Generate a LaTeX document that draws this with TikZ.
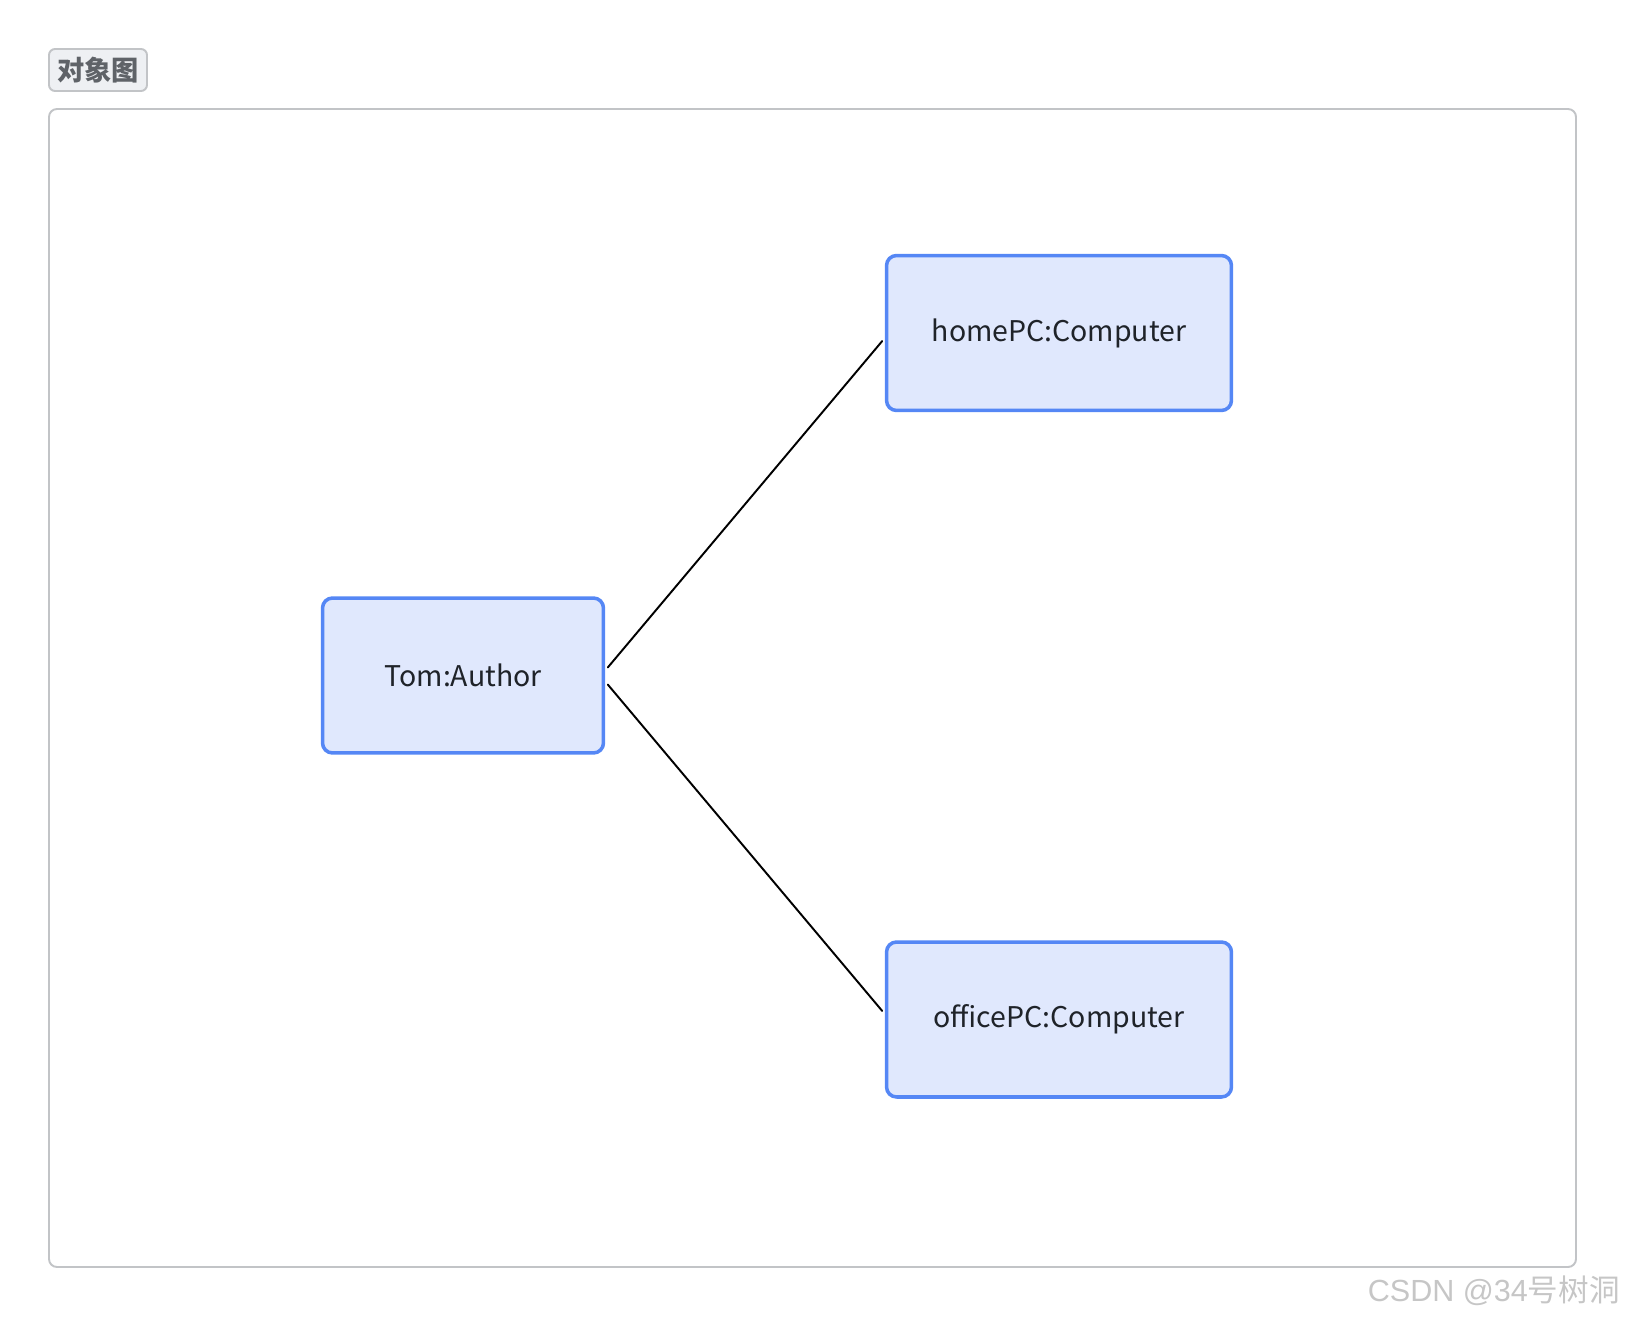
\documentclass[tikz,border=0pt]{standalone}
\usepackage{fontspec}
\setmainfont{Noto Sans CJK SC}
\newfontfamily\wmfont{Liberation Sans}
\usetikzlibrary{positioning}

\definecolor{objfill}{HTML}{E0E8FD}
\definecolor{objline}{HTML}{5587F5}
\definecolor{objtext}{HTML}{1F2329}
\definecolor{framegray}{HTML}{C2C4C7}
\definecolor{tabfill}{HTML}{EEF0F3}
\definecolor{tabtext}{HTML}{5F6368}

\begin{document}
\begin{tikzpicture}[x=0.02cm, y=-0.02cm, line cap=round, line join=round,
	objbox/.style={draw=objline, fill=objfill, line width=2pt, rounded corners=0.2cm,
		minimum width=5.62cm, minimum height=3.1cm, text=objtext,
		font=\fontsize{16.2}{20}\selectfont},
	widebox/.style={objbox, minimum width=6.9cm},
	link/.style={line width=1.1pt, shorten <=0.08cm, shorten >=0.08cm}]
	\useasboundingbox (0,0) rectangle (1626,1318);
	% frame and tab
	\draw [framegray, line width=1.1pt, rounded corners=0.16cm] (49,109) rectangle (1576,1267);
	\node (tab) [draw=framegray, fill=tabfill, line width=1.1pt, rounded corners=0.12cm,
		minimum width=1.96cm, minimum height=0.84cm, text=tabtext,
		font=\fontsize{15.5}{18}\selectfont\bfseries] at (98,70) {对象图};
	% objects
	\node (tom) [objbox] at (463,675.5) {Tom:Author};
	\node (home) [widebox] at (1059,333) {homePC:Computer};
	\node (office) [widebox] at (1059,1019.5) {officePC:Computer};
	% links
	\draw [link] ([yshift=0.1cm]tom.east) -- ([yshift=-0.1cm]home.west);
	\draw [link] ([yshift=-0.12cm]tom.east) -- ([yshift=0.11cm]office.west);
	% watermark
	\node (mark) [text=gray!45, font=\fontsize{17.4}{20}\selectfont, inner sep=0pt, anchor=east] at (1620,1291)
		{\wmfont CSDN @34\rmfamily 号树洞};
\end{tikzpicture}
\end{document}
